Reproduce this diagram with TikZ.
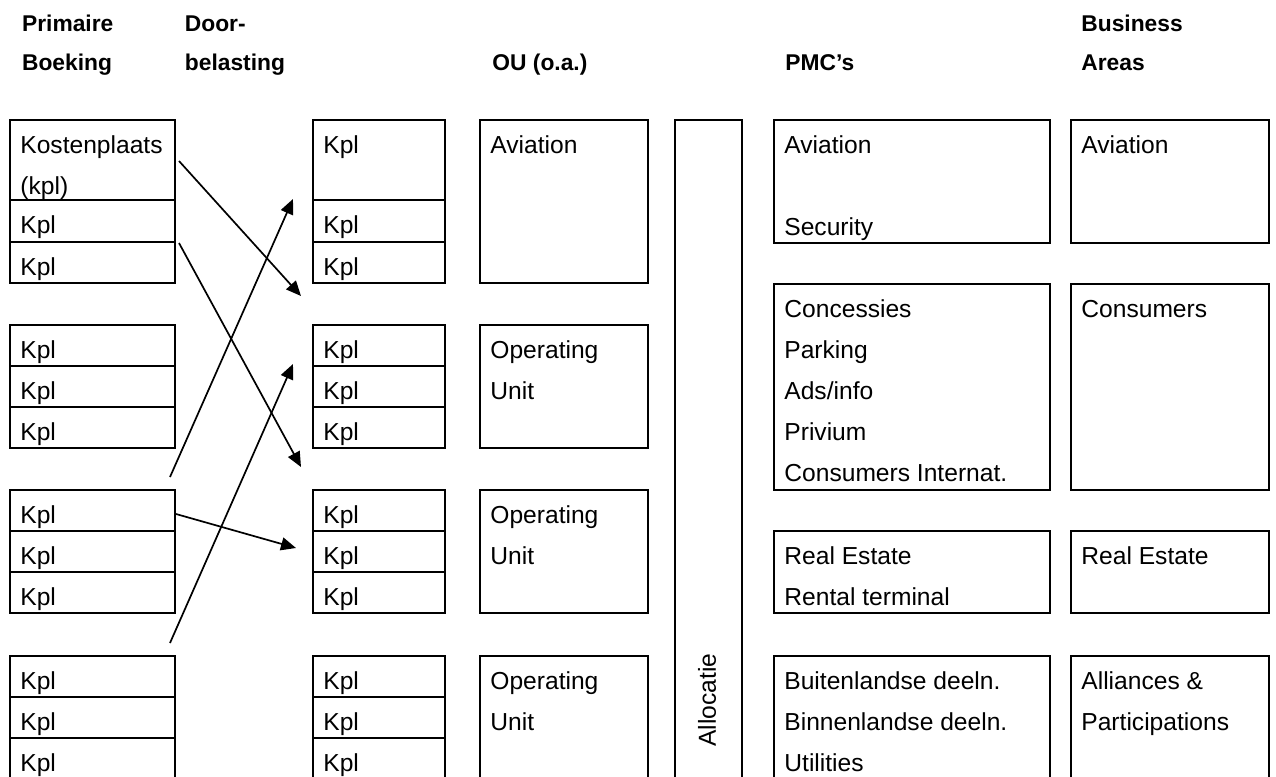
\documentclass[tikz,border=0pt]{standalone}
\usepackage{fontspec}
\setmainfont{Liberation Sans}
\usetikzlibrary{arrows.meta, positioning}

\newcommand{\celltext}[3]{\parbox[t][#2][t]{#1}{\fontsize{12.3}{20.5}\selectfont\raggedright\leftskip=5.2pt\rule{0pt}{16.6pt}#3}}

\begin{document}
\begin{tikzpicture}[
    x=0.5pt, y=-0.5pt,
    cell/.style={draw, line width=1.1pt, inner sep=0pt, outer sep=0pt, anchor=north west},
    head/.style={inner sep=0pt, align=left, font=\fontsize{11.4}{19.5}\selectfont\bfseries},
    line/.style={draw, line width=0.85pt, -{Triangle[length=7.5pt, width=6.5pt]}}
]
    \useasboundingbox (0,0) rectangle (1276,777);

    % Headings
    \node (hprim) [head, anchor=north west] at (21.7,0) {\rule{0pt}{15.5pt}Primaire\\Boeking};
    \node (hdoor) [head, anchor=north west] at (184.5,0) {\rule{0pt}{15.5pt}Door-\\belasting};
    \node (hou) [head, anchor=base west] at (492,70) {OU (o.a.)};
    \node (hpmc) [head, anchor=base west] at (785,70) {PMC's};
    \node (hba) [head, anchor=north west] at (1081,0) {\rule{0pt}{15.5pt}Business\\Areas};

    % Primaire boeking
    \node (pb1a) [cell] at (10,120) {\celltext{82.5pt}{40pt}{Kostenplaats\\(kpl)}};
    \node (pb1b) [cell, below=0pt of pb1a] {\celltext{82.5pt}{21pt}{Kpl}};
    \node (pb1c) [cell, below=0pt of pb1b] {\celltext{82.5pt}{20.5pt}{Kpl}};
    \node (pb2a) [cell] at (10,325) {\celltext{82.5pt}{20.5pt}{Kpl}};
    \node (pb2b) [cell, below=0pt of pb2a] {\celltext{82.5pt}{20.5pt}{Kpl}};
    \node (pb2c) [cell, below=0pt of pb2b] {\celltext{82.5pt}{20.5pt}{Kpl}};
    \node (pb3a) [cell] at (10,490) {\celltext{82.5pt}{20.5pt}{Kpl}};
    \node (pb3b) [cell, below=0pt of pb3a] {\celltext{82.5pt}{20.5pt}{Kpl}};
    \node (pb3c) [cell, below=0pt of pb3b] {\celltext{82.5pt}{20.5pt}{Kpl}};
    \node (pb4a) [cell] at (10,656) {\celltext{82.5pt}{20.5pt}{Kpl}};
    \node (pb4b) [cell, below=0pt of pb4a] {\celltext{82.5pt}{20.5pt}{Kpl}};
    \node (pb4c) [cell, below=0pt of pb4b] {\celltext{82.5pt}{20.5pt}{Kpl}};

    % Doorbelasting
    \node (db1a) [cell] at (313,120) {\celltext{66pt}{40pt}{Kpl}};
    \node (db1b) [cell, below=0pt of db1a] {\celltext{66pt}{21pt}{Kpl}};
    \node (db1c) [cell, below=0pt of db1b] {\celltext{66pt}{20.5pt}{Kpl}};
    \node (db2a) [cell] at (313,325) {\celltext{66pt}{20.5pt}{Kpl}};
    \node (db2b) [cell, below=0pt of db2a] {\celltext{66pt}{20.5pt}{Kpl}};
    \node (db2c) [cell, below=0pt of db2b] {\celltext{66pt}{20.5pt}{Kpl}};
    \node (db3a) [cell] at (313,490) {\celltext{66pt}{20.5pt}{Kpl}};
    \node (db3b) [cell, below=0pt of db3a] {\celltext{66pt}{20.5pt}{Kpl}};
    \node (db3c) [cell, below=0pt of db3b] {\celltext{66pt}{20.5pt}{Kpl}};
    \node (db4a) [cell] at (313,656) {\celltext{66pt}{20.5pt}{Kpl}};
    \node (db4b) [cell, below=0pt of db4a] {\celltext{66pt}{20.5pt}{Kpl}};
    \node (db4c) [cell, below=0pt of db4b] {\celltext{66pt}{20.5pt}{Kpl}};

    % OU
    \node (ou1) [cell] at (480,120) {\celltext{84pt}{81.5pt}{Aviation}};
    \node (ou2) [cell] at (480,325) {\celltext{84pt}{61.5pt}{Operating\\Unit}};
    \node (ou3) [cell] at (480,490) {\celltext{84pt}{61.5pt}{Operating\\Unit}};
    \node (ou4) [cell] at (480,656) {\celltext{84pt}{61.5pt}{Operating\\Unit}};

    % Allocatie
    \node (alloc) [cell, minimum width=33.5pt, minimum height=335pt] at (675,120) {};
    \node (alloctxt) [rotate=90, inner sep=0pt, font=\fontsize{12.3}{14}\selectfont] at (707,700) {Allocatie};

    % PMC's
    \node (pmc1) [cell] at (774,120) {\celltext{138pt}{61.5pt}{Aviation\\[20.5pt]Security}};
    \node (pmc2) [cell] at (774,284) {\celltext{138pt}{103pt}{Concessies\\Parking\\Ads/info\\Privium\\Consumers Internat.}};
    \node (pmc3) [cell] at (774,531) {\celltext{138pt}{41pt}{Real Estate\\Rental terminal}};
    \node (pmc4) [cell] at (774,656) {\celltext{138pt}{61.5pt}{Buitenlandse deeln.\\Binnenlandse deeln.\\Utilities}};

    % Business areas
    \node (ba1) [cell] at (1071,120) {\celltext{99pt}{61.5pt}{Aviation}};
    \node (ba2) [cell] at (1071,284) {\celltext{99pt}{103pt}{Consumers}};
    \node (ba3) [cell] at (1071,531) {\celltext{99pt}{41pt}{Real Estate}};
    \node (ba4) [cell] at (1071,656) {\celltext{99pt}{61.5pt}{Alliances \&\\Participations}};

    % Arrows
    \coordinate (a1s) at (179,161);  \coordinate (a1e) at (301,296);
    \coordinate (a2s) at (179,243);  \coordinate (a2e) at (301,467);
    \coordinate (a3s) at (170,477);  \coordinate (a3e) at (293,199);
    \coordinate (a4s) at (170,643);  \coordinate (a4e) at (293,364);
    \coordinate (a5s) at (176,514);  \coordinate (a5e) at (296,548);
    \path [line] (a1s) -- (a1e);
    \path [line] (a2s) -- (a2e);
    \path [line] (a3s) -- (a3e);
    \path [line] (a4s) -- (a4e);
    \path [line] (a5s) -- (a5e);
\end{tikzpicture}
\end{document}
